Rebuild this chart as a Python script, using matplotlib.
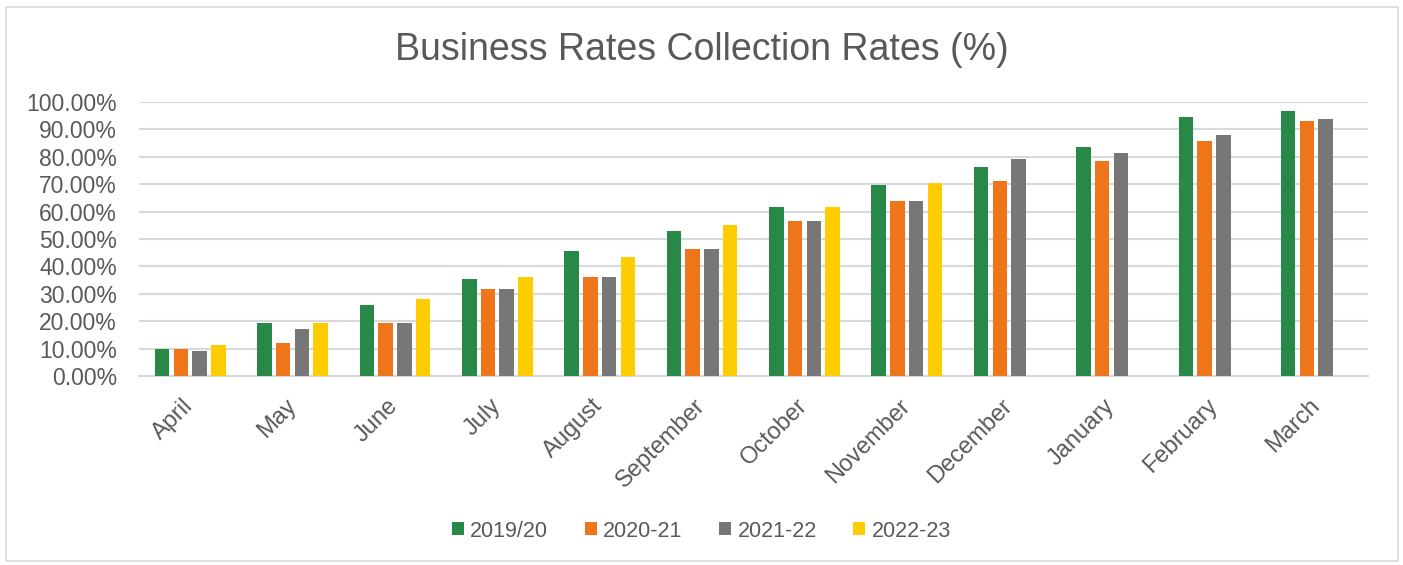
import numpy as np
import matplotlib
matplotlib.use("Agg")
import matplotlib.pyplot as plt
from matplotlib.ticker import FuncFormatter, MultipleLocator
from matplotlib.patches import Rectangle

plt.rcParams['font.family'] = ['Liberation Sans', 'DejaVu Sans']

months = ["April", "May", "June", "July", "August", "September", "October",
          "November", "December", "January", "February", "March"]

# collection rates (%)
rates_1920 = [9.7, 19.2, 25.8, 35.3, 45.6, 52.9, 61.6, 69.7, 76.2, 83.6, 94.5, 96.7]
rates_2021 = [9.7, 11.9, 19.2, 31.7, 36.1, 46.3, 56.5, 63.8, 71.1, 78.4, 85.7, 93.1]
rates_2122 = [9.0, 17.1, 19.2, 31.7, 36.1, 46.3, 56.5, 63.8, 79.2, 81.4, 87.9, 93.8]
rates_2223 = [11.2, 19.2, 28.0, 36.1, 43.4, 55.1, 61.6, 70.4]

series = ["2019/20", "2020-21", "2021-22", "2022-23"]
colors = ["#288848", "#EE7519", "#777777", "#FFCC00"]
text_col = "#595959"
grid_col = "#D9D9D9"

fig = plt.figure(figsize=(14.03, 5.65), dpi=100)
ax = fig.add_axes([0.0991, 0.3345, 0.8756, 0.485])

# outer chart border
fig.patches.append(Rectangle((0.0043, 0.007), 0.9922, 0.981, transform=fig.transFigure,
                             fill=False, edgecolor=grid_col, linewidth=1.2))

x = np.arange(len(months))
width = 0.142
step = 0.183
all_data = [rates_1920, rates_2021, rates_2122, rates_2223]
for i, (name, vals, c) in enumerate(zip(series, all_data, colors)):
    offs = (i - 1.5) * step
    ax.bar(x[:len(vals)] + offs, np.array(vals) / 100.0, width=width, color=c, label=name, zorder=3)

ax.set_xlim(-0.5, len(months) - 0.5)
ax.set_ylim(0, 1.0)
ax.yaxis.set_major_locator(MultipleLocator(0.1))
ax.yaxis.set_major_formatter(FuncFormatter(lambda v, p: f"{v*100:.2f}%"))
ax.grid(axis='y', color=grid_col, linewidth=1.5, zorder=0)
ax.set_axisbelow(True)

for s in ['top', 'right', 'left']:
    ax.spines[s].set_visible(False)
ax.spines['bottom'].set_color(grid_col)
ax.spines['bottom'].set_linewidth(1.5)

ax.set_xticks(x)
ax.set_xticklabels(months, rotation=45, ha='right', va='center', rotation_mode='anchor')
ax.tick_params(axis='both', length=0, colors=text_col)
ax.tick_params(axis='y', pad=16, labelsize=16.5)
ax.tick_params(axis='x', pad=19, labelsize=17)

fig.text(0.5, 0.912, "Business Rates Collection Rates (%)", ha='center', va='center',
         fontsize=27, color=text_col)

leg = fig.legend(loc='center', bbox_to_anchor=(0.5, 0.06), ncol=4, frameon=False,
                 fontsize=15.5, handlelength=0.55, handleheight=0.55, handletextpad=0.3,
                 columnspacing=1.7)
for t in leg.get_texts():
    t.set_color(text_col)

fig.savefig("out.png", dpi=100)
